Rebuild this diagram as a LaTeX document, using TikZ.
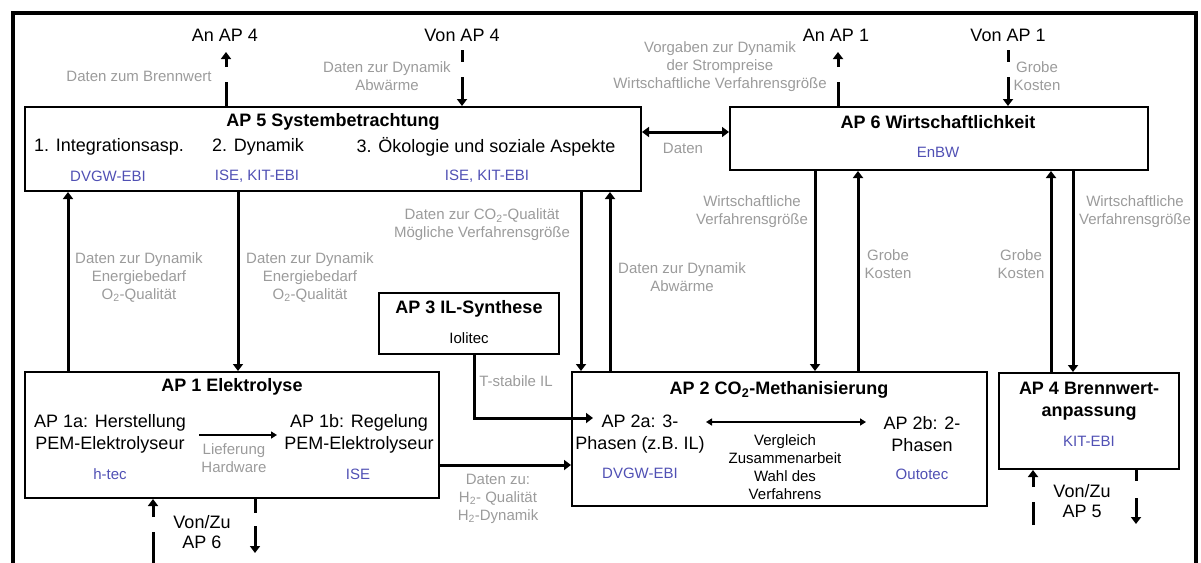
\documentclass[tikz,border=0pt]{standalone}
\usepackage{fontspec}
\setmainfont{Liberation Sans}
\usetikzlibrary{arrows.meta}
\definecolor{lbl}{RGB}{155,155,155}
\definecolor{inst}{RGB}{80,80,180}
\begin{document}
\begin{tikzpicture}[x=1pt,y=-1pt,
  box/.style={draw, line width=2pt, inner sep=0pt},
  txt/.style={font=\fontsize{18}{22}\selectfont, align=center, inner sep=0pt},
  ttl/.style={font=\fontsize{18}{22}\selectfont\bfseries, align=center, inner sep=0pt},
  lab/.style={font=\fontsize{15}{18}\selectfont, text=lbl, align=center, inner sep=0pt},
  org/.style={font=\fontsize{15}{18}\selectfont, text=inst, align=center, inner sep=0pt},
  sm/.style={font=\fontsize{15}{18}\selectfont, align=center, inner sep=0pt},
  vz/.style={font=\fontsize{18}{20}\selectfont, align=center, inner sep=0pt},
  flow/.style={line width=3pt, -{Triangle[length=7pt,width=10pt]}},
  flowb/.style={line width=3pt, {Triangle[length=7pt,width=10pt]}-{Triangle[length=7pt,width=10pt]}},
  fine/.style={line width=1.6pt, -{Triangle[length=6pt,width=7pt]}},
  fineb/.style={line width=1.6pt, {Triangle[length=6pt,width=7pt]}-{Triangle[length=6pt,width=7pt]}},
]
\useasboundingbox (0,0) rectangle (1201,562);
% outer frame
\draw[line width=4pt] (13,640) -- (13,13) -- (1196,13) -- (1196,640);

% boxes
\node[box, minimum width=616pt, minimum height=84pt] (ap5) at (333,149) {};
\node[box, minimum width=418pt, minimum height=63pt] (ap6) at (939,138.5) {};
\node[box, minimum width=414pt, minimum height=126pt] (ap1) at (232,435) {};
\node[box, minimum width=415pt, minimum height=134pt] (ap2) at (779.5,439) {};
\node[box, minimum width=180pt, minimum height=61pt] (ap3) at (469,323.5) {};
\node[box, minimum width=180pt, minimum height=96pt] (ap4) at (1089,421) {};

% top texts
\node[txt] (anap4) at (225,35) {An AP 4};
\node[txt] (vonap4) at (462,35) {Von AP 4};
\node[txt] (anap1) at (836,35) {An AP 1};
\node[txt] (vonap1) at (1008,35) {Von AP 1};
\node[lab] (l01) at (139,76) {Daten zum Brennwert};
\node[lab] (l02) at (387,76) {Daten zur Dynamik\\Abwärme};
\node[lab] (l03) at (720,67) {Vorgaben zur Dynamik\\der Strompreise\\Wirtschaftliche Verfahrensgröße};
\node[lab] (l04) at (1037,76) {Grobe\\Kosten};

% AP5 content
\node[ttl] (t5) at (333,122) {AP 5 Systembetrachtung};
\node[txt] (s51) at (109,147) {1. Integrationsasp.};
\node[txt] (s52) at (258,147) {2. Dynamik};
\node[txt] (s53) at (486,147) {3. Ökologie und soziale Aspekte};
\node[org] (o51) at (108,176) {DVGW-EBI};
\node[org] (o52) at (257,176) {ISE, KIT-EBI};
\node[org] (o53) at (487,176) {ISE, KIT-EBI};

% AP6 content
\node[ttl] (t6) at (938,122) {AP 6 Wirtschaftlichkeit};
\node[org] (o6) at (938,152) {EnBW};
\node[lab] (ldaten) at (683,148) {Daten};

% middle labels
\node[lab] (l11) at (139,277) {Daten zur Dynamik\\Energiebedarf\\O\textsubscript{2}-Qualität};
\node[lab] (l12) at (310,277) {Daten zur Dynamik\\Energiebedarf\\O\textsubscript{2}-Qualität};
\node[lab] (l13) at (482,225) {Daten zur CO\textsubscript{2}-Qualität\\Mögliche Verfahrensgröße};
\node[lab] (l14) at (682,277.5) {Daten zur Dynamik\\Abwärme};
\node[lab] (l15) at (752,212) {Wirtschaftliche\\Verfahrensgröße};
\node[lab] (l16) at (888,264) {Grobe\\Kosten};
\node[lab] (l17) at (1021,264) {Grobe\\Kosten};
\node[lab] (l18) at (1135,212) {Wirtschaftliche\\Verfahrensgröße};

% AP3 content
\node[ttl] (t3) at (469,309) {AP 3 IL-Synthese};
\node[sm] (o3) at (469,338) {Iolitec};
\node[lab] (lil) at (516,381) {T-stabile IL};

% AP1 content
\node[ttl] (t1) at (232,387) {AP 1 Elektrolyse};
\node[txt] (ap1a) at (110,434) {AP 1a: Herstellung\\PEM-Elektrolyseur};
\node[org] (o1a) at (110,474) {h-tec};
\node[lab] (llief) at (234,458) {Lieferung\\Hardware};
\node[txt] (ap1b) at (359,434) {AP 1b: Regelung\\PEM-Elektrolyseur};
\node[org] (o1b) at (358,474) {ISE};
\node[lab] (lh2) at (498,499) {Daten zu:\\H\textsubscript{2}- Qualität\\H\textsubscript{2}-Dynamik};
\node[vz] (vz6) at (202,532) {Von/Zu\\AP 6};

% AP2 content
\node[ttl] (t2) at (779,390) {AP 2 CO\textsubscript{2}-Methanisierung};
\node[txt] (ap2a) at (640,434) {AP 2a: 3-\\Phasen (z.B. IL)};
\node[org] (o2a) at (640,473) {DVGW-EBI};
\node[sm] (vgl) at (785,467) {Vergleich\\Zusammenarbeit\\Wahl des\\Verfahrens};
\node[txt] (ap2b) at (922,434) {AP 2b: 2-\\Phasen};
\node[org] (o2b) at (922,474) {Outotec};

% AP4 content
\node[ttl] (t4) at (1089,401.5) {AP 4 Brennwert-\\anpassung};
\node[org] (o4) at (1089,441) {KIT-EBI};
\node[vz] (vz5) at (1082,501) {Von/Zu\\AP 5};

% helper coordinates
\coordinate (xUpA) at (68,0);
\coordinate (xDnA) at (238,0);
\coordinate (xDnB) at (581,0);
\coordinate (xUpB) at (610,0);
\coordinate (xDnC) at (815,0);
\coordinate (xUpC) at (858,0);
\coordinate (xUpD) at (1051,0);
\coordinate (xDnD) at (1073,0);
\coordinate (xT) at (474,0);
\coordinate (yD) at (0,132);
\coordinate (yH) at (0,465);
\coordinate (tA4) at (226,52);
\coordinate (sV4) at (462,50);
\coordinate (tA1) at (838,52);
\coordinate (sV1) at (1008,50);
\coordinate (sB1) at (153,575);
\coordinate (tB2) at (255,553);
\coordinate (sB3) at (1033,525);
\coordinate (tB4) at (1136,524);
\coordinate (tIL) at (593,418);
\coordinate (la) at (199,435);
\coordinate (lb) at (277,435);
\coordinate (dl) at (706,422);
\coordinate (dr) at (866,422);

% top dashed arrows
\draw[flow, dash pattern=on 24pt off 15pt] (ap5.north -| tA4) -- (tA4);
\draw[flow, dash pattern=on 12pt off 15pt on 40pt off 15pt] (sV4) -- (ap5.north -| sV4);
\draw[flow, dash pattern=on 24pt off 15pt] (ap6.north -| tA1) -- (tA1);
\draw[flow, dash pattern=on 12pt off 15pt on 40pt off 15pt] (sV1) -- (ap6.north -| sV1);

% AP5 <-> AP6
\draw[flowb] (ap5.east |- yD) -- (ap6.west |- yD);

% vertical connectors
\draw[flow] (ap1.north -| xUpA) -- (ap5.south -| xUpA);
\draw[flow] (ap5.south -| xDnA) -- (ap1.north -| xDnA);
\draw[flow] (ap5.south -| xDnB) -- (ap2.north -| xDnB);
\draw[flow] (ap2.north -| xUpB) -- (ap5.south -| xUpB);
\draw[flow] (ap6.south -| xDnC) -- (ap2.north -| xDnC);
\draw[flow] (ap2.north -| xUpC) -- (ap6.south -| xUpC);
\draw[flow] (ap4.north -| xUpD) -- (ap6.south -| xUpD);
\draw[flow] (ap6.south -| xDnD) -- (ap4.north -| xDnD);

% AP3 -> AP2a
\draw[flow] (ap3.south -| xT) |- (tIL);
% AP1 -> AP2
\draw[flow] (ap1.east |- yH) -- (ap2.west |- yH);
% inner arrows
\draw[fine] (la) -- (lb);
\draw[fineb] (dl) -- (dr);

% bottom dashed arrows
\draw[flow, dash pattern=on 43pt off 15pt on 40pt off 10pt] (sB1) -- (ap1.south -| sB1);
\draw[flow, dash pattern=on 14pt off 13pt on 40pt] (ap1.south -| tB2) -- (tB2);
\draw[flow, dash pattern=on 23pt off 15pt on 40pt] (sB3) -- (ap4.south -| sB3);
\draw[flow, dash pattern=on 11pt off 17pt on 40pt] (ap4.south -| tB4) -- (tB4);
\end{tikzpicture}
\end{document}
